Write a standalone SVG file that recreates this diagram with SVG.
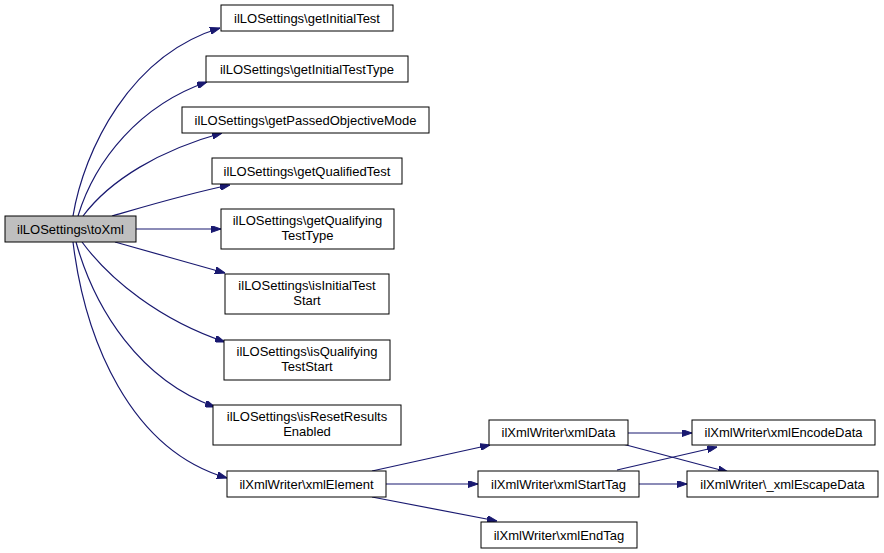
<svg xmlns="http://www.w3.org/2000/svg" width="884" height="553" viewBox="0 0 884 553">
<defs>
<style>
.n rect{fill:#ffffff;stroke:#000000;stroke-width:1}
.n.root rect{fill:#bfbfbf}
.n text{font-family:"Liberation Sans",Arial,sans-serif;font-size:13px;fill:#000000;text-anchor:middle}
.e path{fill:none;stroke:#191970;stroke-width:1.2;marker-end:url(#ah)}
</style>
<marker id="ah" viewBox="0 0 10 7" refX="10" refY="3.5" markerWidth="10" markerHeight="7" markerUnits="userSpaceOnUse" orient="auto">
<path d="M0,0 L10,3.5 L0,7 z" fill="#191970" stroke="#191970"/>
</marker>
</defs>
<rect width="884" height="553" fill="#ffffff"/>
<g id="edges" class="e">
<path d="M73,216 C84,150 130,55 220,28"/>
<path d="M78,216 C95,160 140,105 207,82"/>
<path d="M83,216 C110,180 160,150 222,133"/>
<path d="M112,216 C150,205 190,193 230,185"/>
<path d="M136,229 L221,229"/>
<path d="M115,242 C150,252 190,263 225,273"/>
<path d="M82,242 C110,280 160,320 225,342"/>
<path d="M76,242 C95,310 140,380 215,407"/>
<path d="M73,242 C85,340 130,450 227,478"/>
<path d="M372,471 L490,445"/>
<path d="M386,484 L478,484"/>
<path d="M372,497 L497,521"/>
<path d="M628,433 L692,433"/>
<path d="M615,442 L728,472"/>
<path d="M617,470 L717,447"/>
<path d="M639,484 L687,484"/>
</g>
<g id="toXml" class="n root"><rect x="5" y="216" width="131" height="26"/><text x="70.5" y="233.5">ilLOSettings\toXml</text></g>
<g id="getInitialTest" class="n"><rect x="221" y="5" width="172" height="26"/><text x="307" y="22.5">ilLOSettings\getInitialTest</text></g>
<g id="getInitialTestType" class="n"><rect x="206" y="56" width="202" height="26"/><text x="307" y="73.5">ilLOSettings\getInitialTestType</text></g>
<g id="getPassedObjectiveMode" class="n"><rect x="182" y="107" width="247" height="26"/><text x="305.5" y="124.5">ilLOSettings\getPassedObjectiveMode</text></g>
<g id="getQualifiedTest" class="n"><rect x="212" y="158" width="190" height="26"/><text x="307" y="175.5">ilLOSettings\getQualifiedTest</text></g>
<g id="getQualifyingTestType" class="n"><rect x="221" y="209" width="173" height="40"/><text x="307.5" y="225">ilLOSettings\getQualifying</text><text x="307.5" y="240">TestType</text></g>
<g id="isInitialTestStart" class="n"><rect x="225" y="274" width="164" height="40"/><text x="307" y="290">ilLOSettings\isInitialTest</text><text x="307" y="305">Start</text></g>
<g id="isQualifyingTestStart" class="n"><rect x="224" y="340" width="166" height="40"/><text x="307" y="356">ilLOSettings\isQualifying</text><text x="307" y="371">TestStart</text></g>
<g id="isResetResultsEnabled" class="n"><rect x="213" y="405" width="188" height="40"/><text x="307" y="421">ilLOSettings\isResetResults</text><text x="307" y="436">Enabled</text></g>
<g id="xmlElement" class="n"><rect x="227" y="471" width="159" height="26"/><text x="306.5" y="488.5">ilXmlWriter\xmlElement</text></g>
<g id="xmlData" class="n"><rect x="489" y="420" width="139" height="25"/><text x="558.5" y="437">ilXmlWriter\xmlData</text></g>
<g id="xmlStartTag" class="n"><rect x="478" y="471" width="161" height="26"/><text x="558.5" y="488.5">ilXmlWriter\xmlStartTag</text></g>
<g id="xmlEndTag" class="n"><rect x="481" y="522" width="156" height="26"/><text x="559" y="539.5">ilXmlWriter\xmlEndTag</text></g>
<g id="xmlEncodeData" class="n"><rect x="692" y="420" width="183" height="25"/><text x="783.5" y="437">ilXmlWriter\xmlEncodeData</text></g>
<g id="xmlEscapeData" class="n"><rect x="687" y="471" width="191" height="26"/><text x="782.5" y="488.5">ilXmlWriter\_xmlEscapeData</text></g>
</svg>
